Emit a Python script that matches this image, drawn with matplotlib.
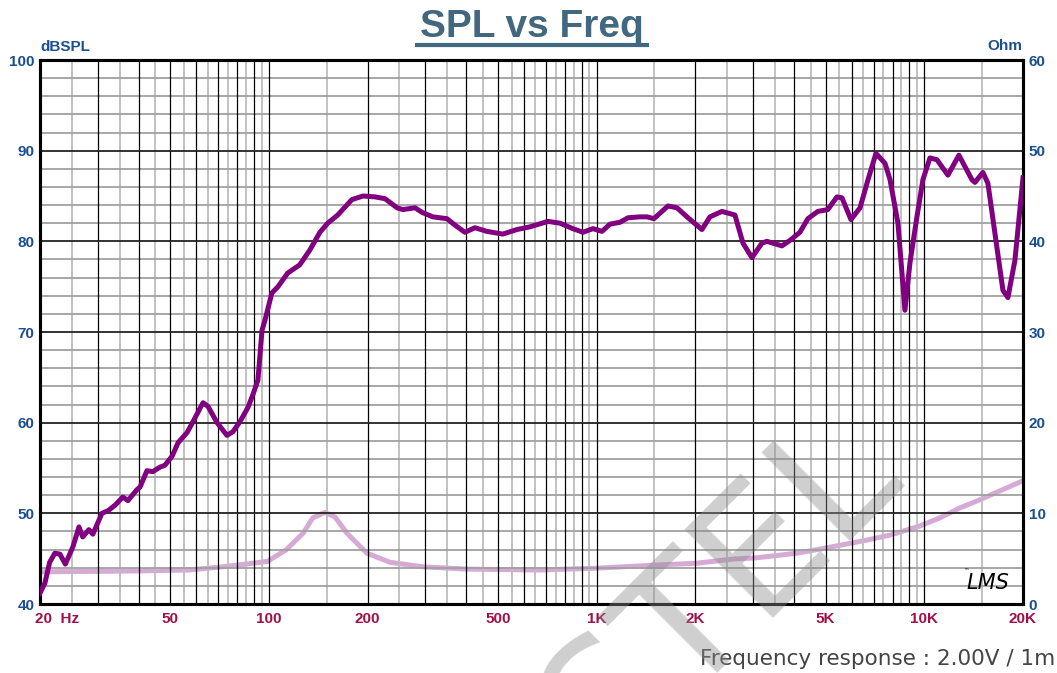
import numpy as np
import matplotlib.pyplot as plt
from matplotlib.lines import Line2D
from matplotlib.ticker import NullLocator
from matplotlib.transforms import ScaledTranslation

# SPL curve (Hz, dB)
spl_freq = [20, 20.7, 21.4, 22.2, 23.0, 23.9, 25.2, 26.3, 27.0, 28.2, 29.0, 30.9, 32.3, 33.9,
            35.8, 37.1, 39.5, 40.4, 42.4, 44.2, 46.5, 48.1, 50.6, 52.8, 56.2, 58.6, 61.6, 62.9,
            65.1, 69.4, 74.4, 77.6, 81.5, 86.3, 89.3, 92.5, 95.2, 97.2, 102, 106.5, 114, 124,
            133, 143, 151, 162, 179, 193.5, 211, 226, 246, 256, 279, 293, 316, 349, 369, 396,
            425, 462, 517, 571, 626, 710, 773, 846, 908, 974, 1038, 1098, 1178, 1246, 1355,
            1424, 1495, 1650, 1758, 1886, 2095, 2216, 2411, 2642, 2795, 2977, 3193, 3307, 3675,
            3888, 4170, 4411, 4731, 5074, 5410, 5604, 5970, 6364, 6730, 7116, 7584, 7856, 8306,
            8723, 9035, 9491, 9899, 10399, 10924, 11800, 12748, 13968, 14265, 15090, 15630,
            16417, 17370, 17990, 18894, 20000]
spl_db = [41.2, 42.3, 44.6, 45.6, 45.5, 44.4, 46.3, 48.5, 47.4, 48.2, 47.7, 50.0, 50.3, 50.9,
          51.8, 51.4, 52.6, 52.9, 54.7, 54.6, 55.1, 55.3, 56.3, 57.8, 58.9, 60.1, 61.6, 62.2,
          61.8, 60.0, 58.6, 59.0, 60.1, 61.7, 63.1, 64.7, 70.2, 71.3, 74.3, 75.0, 76.5, 77.4,
          79.0, 81.0, 82.0, 82.9, 84.6, 85.0, 84.9, 84.7, 83.7, 83.5, 83.7, 83.2, 82.7, 82.5,
          81.8, 81.0, 81.5, 81.1, 80.8, 81.3, 81.6, 82.2, 82.0, 81.4, 81.0, 81.4, 81.1, 81.9,
          82.1, 82.6, 82.7, 82.7, 82.5, 83.9, 83.7, 82.7, 81.3, 82.7, 83.3, 82.9, 79.8, 78.2,
          79.8, 80.0, 79.5, 80.1, 81.0, 82.5, 83.3, 83.5, 84.9, 84.8, 82.4, 83.7, 86.8, 89.7,
          88.6, 86.8, 82.0, 72.4, 77.6, 82.7, 86.8, 89.2, 89.0, 87.3, 89.5, 86.8, 86.5, 87.6,
          86.4, 80.9, 74.6, 73.8, 77.9, 87.0]

# impedance curve (Hz, Ohm)
imp_freq = [20, 30, 40, 57, 72, 85, 99, 113, 127, 136, 148, 159, 173, 199, 234, 295, 400,
            670, 1000, 1530, 2020, 2600, 3080, 4080, 5040, 6680, 7860, 9690, 11150, 12840,
            14780, 20000]
imp_ohm = [3.55, 3.6, 3.65, 3.75, 4.1, 4.4, 4.7, 6.0, 7.8, 9.5, 10.1, 9.6, 7.8, 5.6, 4.6,
           4.1, 3.85, 3.75, 3.95, 4.3, 4.5, 4.95, 5.1, 5.6, 6.2, 7.05, 7.6, 8.6, 9.5, 10.6,
           11.5, 13.6]

x_ticks = [20, 50, 100, 200, 500, 1000, 2000, 5000, 10000, 20000]
x_labels = ['20  Hz', '50', '100', '200', '500', '1K', '2K', '5K', '10K', '20K']
db_ticks = [40, 50, 60, 70, 80, 90, 100]
ohm_ticks = [0, 10, 20, 30, 40, 50, 60]

blue = '#1B4F8F'
red = '#A0104A'
W, H = 1057, 673

fig = plt.figure(figsize=(W / 100, H / 100), dpi=100)
ax = fig.add_axes([40 / W, 1 - 604 / H, 983 / W, 544 / H])
ax.set_xscale('log')
ax.set_xlim(20, 20000)
ax.set_ylim(40, 100)

# grid: integer multiples dark, half steps light
for dec in [10, 100, 1000, 10000]:
    for m in np.arange(1, 10, 0.5):
        f = dec * m
        if f <= 20 or f >= 20000:
            continue
        if m == int(m):
            ax.axvline(f, color='#000000', lw=0.9, zorder=1)
        else:
            ax.axvline(f, color='#bdbdbd', lw=1.3, zorder=0.5)
for v in range(42, 100, 2):
    if v % 10 == 0:
        ax.axhline(v, color='#222222', lw=1.3, zorder=1)
    else:
        ax.axhline(v, color='#a0a0a0', lw=1.3, zorder=0.5)

ax2 = ax.twinx()
ax2.set_ylim(0, 60)
ax2.plot(imp_freq, imp_ohm, color='#D7A9D5', lw=3.6, solid_capstyle='round')
ax.plot(spl_freq, spl_db, color='#800080', lw=3.6, zorder=3, solid_joinstyle='round')
ax.set_zorder(ax2.get_zorder() + 1)
ax.patch.set_visible(False)

for a in (ax, ax2):
    for s in a.spines.values():
        s.set_linewidth(2.2)
        s.set_color('black')

ax.xaxis.set_minor_locator(NullLocator())
ax.set_xticks(x_ticks, x_labels)
ax.set_yticks(db_ticks)
ax2.set_yticks(ohm_ticks)
ax.tick_params(axis='x', length=0, pad=6, labelsize=11, labelcolor=red)
ax.tick_params(axis='y', length=0, pad=4, labelsize=11, labelcolor=blue)
ax2.tick_params(axis='y', length=0, pad=4, labelsize=11, labelcolor=blue)
for lab in ax.get_xticklabels() + ax.get_yticklabels() + ax2.get_yticklabels():
    lab.set_fontweight('bold')
    lab.set_family('Liberation Sans')
first = ax.get_xticklabels()[0]
first.set_horizontalalignment('left')
first.set_transform(first.get_transform() + ScaledTranslation(-5 / 100, 0, fig.dpi_scale_trans))

fig.text(40 / W, 1 - 47 / H, 'dBSPL', ha='left', va='center', color=blue,
         fontsize=11, fontweight='bold', family='Liberation Sans')
fig.text(1022 / W, 1 - 46 / H, 'Ohm', ha='right', va='center', color=blue,
         fontsize=11, fontweight='bold', family='Liberation Sans')

# title with underline
fig.text(532 / W, 1 - 37 / H, 'SPL vs Freq', ha='center', va='baseline', color='#41687F',
         fontsize=28, fontweight='bold', family='Liberation Sans')
fig.add_artist(Line2D([417 / W, 647 / W], [1 - 45 / H] * 2, color='#41687F', lw=3))

fig.text(1055 / W, 1 - 659 / H, 'Frequency response : 2.00V / 1m', ha='right', va='center',
         color='#444444', fontsize=15.5, family='DejaVu Sans')

# logo
fig.text(988 / W, 1 - 583 / H, 'LMS', ha='center', va='center', fontsize=15,
         style='italic', color='black', family='DejaVu Sans')
fig.text(966 / W, 1 - 572 / H, '™', ha='center', va='center', fontsize=4, color='black')

# watermark
fig.text(904 / W, 1 - 478 / H, 'CASTEL', rotation=45, rotation_mode='anchor', ha='right',
         va='baseline', fontsize=124, color='#8c8c8c', alpha=0.42, family='DejaVu Sans',
         zorder=10)

fig.savefig('out.png', dpi=100)
